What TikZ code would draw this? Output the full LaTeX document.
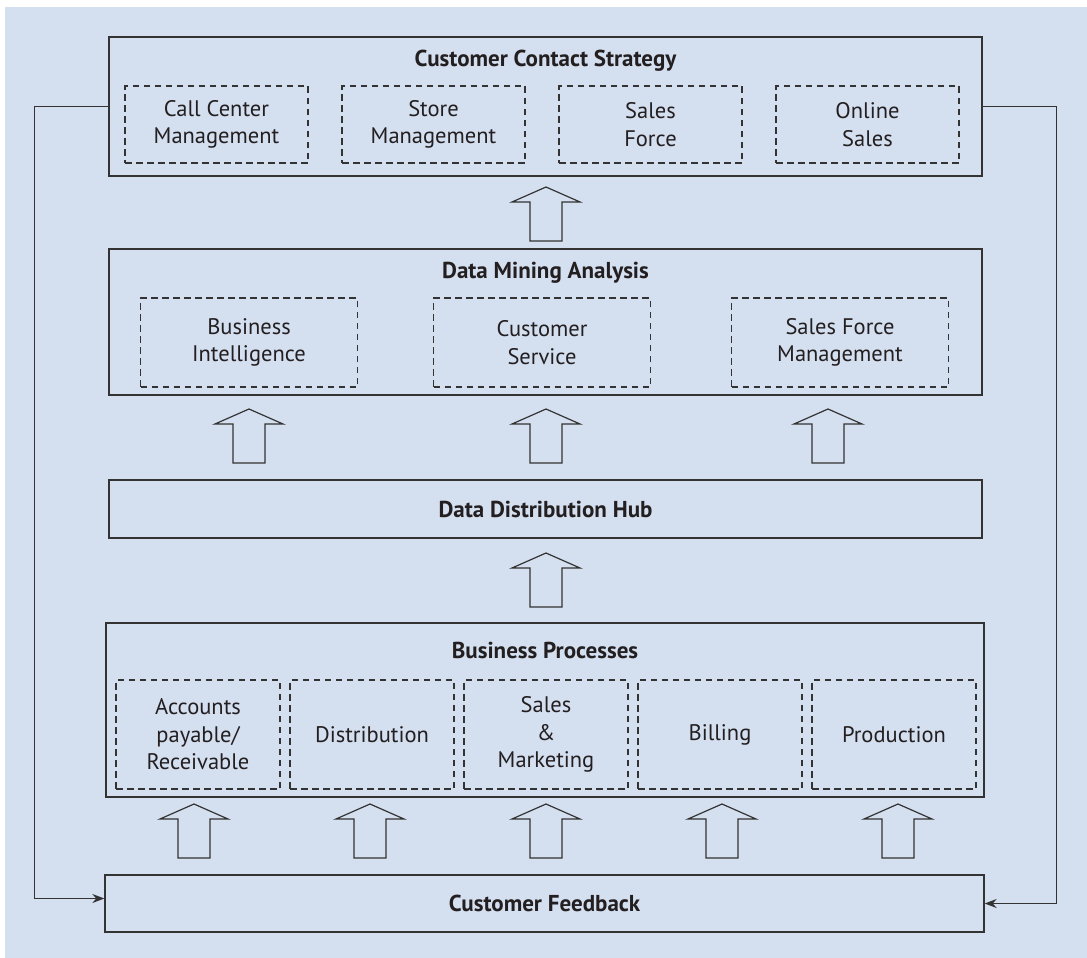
\documentclass[tikz,border=0pt]{standalone}
\usepackage{fontspec}
\setmainfont{PT Sans}
\usepackage{xcolor}
\definecolor{panelblue}{HTML}{D4DFF0}
\definecolor{boxline}{HTML}{333333}
\definecolor{textdark}{HTML}{231F20}
\usepackage{tikz}
\usetikzlibrary{arrows.meta,positioning}

\tikzset{
  layer/.style={draw=boxline,line width=1.3pt,inner sep=0pt},
  subbox/.style={draw=boxline,line width=1.1pt,dash pattern=on 6.5pt off 4.5pt,inner sep=0pt,
    align=center,text=textdark,font=\fontsize{22.5}{27.5}\selectfont},
  layertitle/.style={text=textdark,font=\bfseries\fontsize{23}{27}\selectfont},
  fbline/.style={draw=boxline,line width=1.2pt,-{Stealth[length=12pt,width=9pt]}},
  blockup/.pic={\draw[boxline,line width=1.2pt,fill=panelblue]
    (0,0) -- (34,15) -- (16,15) -- (16,54) -- (-16,54) -- (-16,15) -- (-34,15) -- cycle;}
}

\begin{document}
\begin{tikzpicture}[x=1pt,y=-1pt]
\useasboundingbox (0,0) rectangle (1087,958);
\fill[panelblue] (5,7) rectangle (1087,958);
% customer contact strategy
\node[layer,minimum width=873pt,minimum height=139pt] (ccs) at (545.5,106.5) {};
\node[layertitle] (ccstitle) at (545.5,61) {Customer Contact Strategy};
\foreach \x/\nm/\txt in {216.5/callc/{Call Center\\Management},433.5/store/{Store\\Management},
  650.5/force/{Sales\\Force},867.5/online/{Online\\Sales}}
  \node[subbox,minimum width=183pt,minimum height=77pt] (\nm) at (\x,124.5) {\txt};
% data mining analysis
\node[layer,minimum width=873pt,minimum height=146pt] (dma) at (545.5,322) {};
\node[layertitle] (dmatitle) at (545.5,273) {Data Mining Analysis};
\foreach \x/\nm/\txt in {249/bi/{Business\\Intelligence},542/cserv/{Customer\\Service},
  840/sfm/{Sales Force\\Management}}
  \node[subbox,minimum width=217pt,minimum height=89pt] (\nm) at (\x,342.5) {\txt};
% data distribution hub
\node[layer,minimum width=873pt,minimum height=58pt,layertitle] (hub) at (545.5,509) {Data Distribution Hub};
% business processes
\node[layer,minimum width=878pt,minimum height=174pt] (bp) at (545,710) {};
\node[layertitle] (bptitle) at (545,650) {Business Processes};
\foreach \x/\nm/\txt in {198/acct/{Accounts\\payable/\\Receivable},372/dist/Distribution,
  546/sales/{Sales\\\&\\Marketing},720/bill/Billing,894/prod/Production}
  \node[subbox,minimum width=164pt,minimum height=109pt] (\nm) at (\x,734.5) {\txt};
% customer feedback
\node[layer,minimum width=879pt,minimum height=57pt,layertitle] (fb) at (544.5,903.5) {Customer Feedback};
% block arrows
\pic at (546,187) {blockup};
\foreach \x in {249,546,828} \pic at (\x,409) {blockup};
\pic at (546,553) {blockup};
\foreach \x in {194,370,546,722,898} \pic at (\x,804) {blockup};
% feedback loop
\draw[fbline] (ccs.west) -- ++(-74,0) |- ([yshift=5pt]fb.west);
\draw[fbline] (ccs.east) -- ++(74,0) |- (fb.east);
\end{tikzpicture}
\end{document}
